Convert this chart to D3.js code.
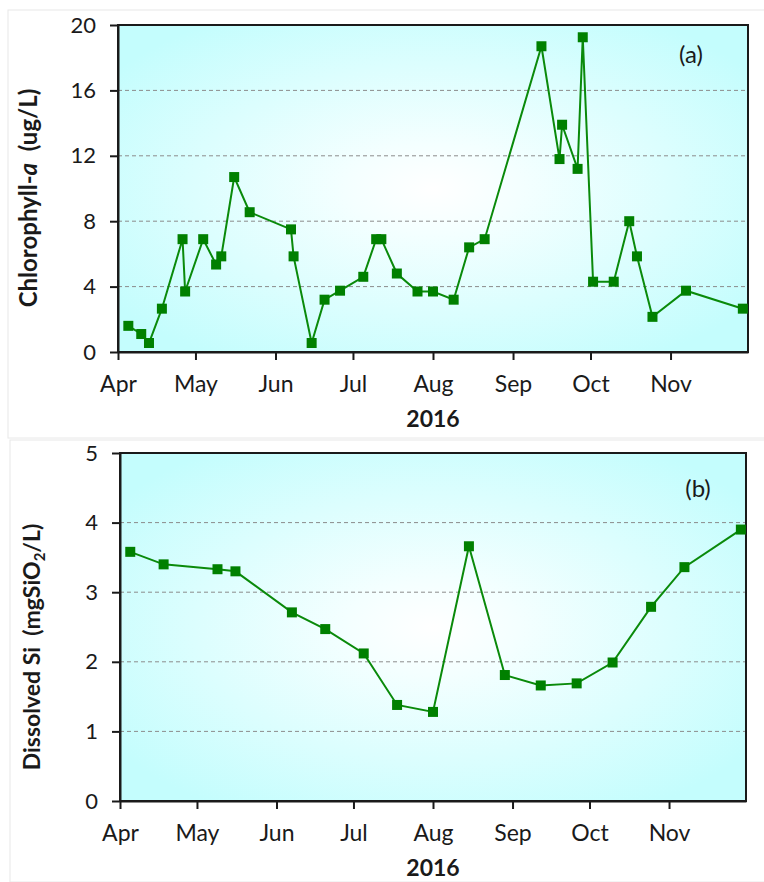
<!DOCTYPE html>
<html>
<head>
<meta charset="utf-8">
<script src="https://cdn.jsdelivr.net/npm/d3@7"></script>
<style>
  html, body { margin: 0; padding: 0; background: #ffffff; }
  svg text { font-family: Lato, "Open Sans", "DejaVu Sans", sans-serif; fill: #1a1a1a; }
</style>
</head>
<body>
<svg id="chart" width="764" height="882"></svg>
<script>
// ---------- data ----------
const chlDates = ["2016-04-05","2016-04-10","2016-04-13","2016-04-18","2016-04-26","2016-04-27",
  "2016-05-04","2016-05-09","2016-05-11","2016-05-16","2016-05-22","2016-06-07","2016-06-08",
  "2016-06-15","2016-06-20","2016-06-26","2016-07-05","2016-07-10","2016-07-12","2016-07-18",
  "2016-07-26","2016-08-01","2016-08-09","2016-08-15","2016-08-21","2016-09-12","2016-09-19",
  "2016-09-20","2016-09-26","2016-09-28","2016-10-02","2016-10-10","2016-10-16","2016-10-19",
  "2016-10-25","2016-11-07","2016-11-29"];
const chlValues = [1.6,1.1,0.55,2.65,6.9,3.7,6.9,5.35,5.85,10.7,8.55,7.5,5.85,0.55,3.2,3.75,4.6,
  6.9,6.9,4.8,3.7,3.7,3.2,6.4,6.9,18.7,11.8,13.9,11.2,19.25,4.3,4.3,8.0,5.85,2.15,3.75,2.65];

const siDates = ["2016-04-05","2016-04-18","2016-05-09","2016-05-16","2016-06-07","2016-06-20",
  "2016-07-05","2016-07-18","2016-08-01","2016-08-15","2016-08-29","2016-09-12","2016-09-26",
  "2016-10-10","2016-10-25","2016-11-07","2016-11-29"];
const siValues = [3.58,3.40,3.33,3.30,2.71,2.47,2.12,1.38,1.28,3.66,1.81,1.66,1.69,1.99,2.79,3.36,3.90];

const chlTicks = [0,4,8,12,16,20];
const siTicks = [0,1,2,3,4,5];
const yearLabel = "2016";

// ---------- drawing ----------
const parse = d3.timeParse("%Y-%m-%d");
const svg = d3.select("#chart");
const defs = svg.append("defs");
const FONT = "Lato, 'Open Sans', sans-serif";

function panel(cfg) {
  const g = svg.append("g");
  // chart-area outline
  g.append("rect").attr("x", cfg.box[0]).attr("y", cfg.box[1])
    .attr("width", cfg.box[2]).attr("height", cfg.box[3])
    .attr("fill", "none").attr("stroke", "#e8e8e8").attr("stroke-width", 1);

  const x = d3.scaleTime()
    .domain([new Date(2016, 3, 1), new Date(2016, 11, 1)])
    .range([cfg.left, cfg.right]);
  const y = d3.scaleLinear().domain(cfg.domain).range([cfg.bottom, cfg.top]);

  const gid = "grad" + cfg.id;
  const grad = defs.append("radialGradient").attr("id", gid)
    .attr("cx", "50%").attr("cy", "50%").attr("r", "62%");
  grad.append("stop").attr("offset", "0%").attr("stop-color", "#ffffff");
  grad.append("stop").attr("offset", "22%").attr("stop-color", "#f4ffff");
  grad.append("stop").attr("offset", "100%").attr("stop-color", "#c4fdfd");

  g.append("rect").attr("x", cfg.left).attr("y", cfg.top)
    .attr("width", cfg.right - cfg.left).attr("height", cfg.bottom - cfg.top)
    .attr("fill", `url(#${gid})`);

  // gridlines
  g.append("g").selectAll("line")
    .data(cfg.ticks.filter(t => t > cfg.domain[0] && t < cfg.domain[1]))
    .join("line")
    .attr("x1", cfg.left).attr("x2", cfg.right)
    .attr("y1", d => y(d)).attr("y2", d => y(d))
    .attr("stroke", "#8c8c8c").attr("stroke-width", 1).attr("stroke-dasharray", "4,3");

  // frame
  g.append("rect").attr("x", cfg.left).attr("y", cfg.top)
    .attr("width", cfg.right - cfg.left).attr("height", cfg.bottom - cfg.top)
    .attr("fill", "none").attr("stroke", "#1a1a1a").attr("stroke-width", 2);

  // axes
  const months = d3.timeMonth.range(new Date(2016, 3, 1), new Date(2016, 11, 1));
  const xAxis = g.append("g").attr("transform", `translate(0,${cfg.bottom})`)
    .call(d3.axisBottom(x).tickValues(months).tickFormat(d3.timeFormat("%b"))
      .tickSize(8).tickSizeOuter(0).tickPadding(16));
  xAxis.select(".domain").attr("stroke", "#1a1a1a").attr("stroke-width", 2);
  xAxis.selectAll(".tick line").attr("stroke", "#1a1a1a").attr("stroke-width", 2);
  xAxis.selectAll(".tick text").attr("font-size", 23).attr("fill", "#1a1a1a")
    .style("font-family", FONT);

  const yAxis = g.append("g").attr("transform", `translate(${cfg.left},0)`)
    .call(d3.axisLeft(y).tickValues(cfg.ticks).tickFormat(d3.format("d"))
      .tickSize(8).tickSizeOuter(0).tickPadding(14));
  yAxis.select(".domain").attr("stroke", "#1a1a1a").attr("stroke-width", 2);
  yAxis.selectAll(".tick line").attr("stroke", "#1a1a1a").attr("stroke-width", 2);
  yAxis.selectAll(".tick text").attr("font-size", 22).attr("fill", "#1a1a1a")
    .style("font-family", FONT);

  // series
  const pts = cfg.dates.map((d, i) => ({ date: parse(d), v: cfg.values[i] }));
  g.append("path").datum(pts)
    .attr("fill", "none").attr("stroke", "#0a8a0a").attr("stroke-width", 2)
    .attr("d", d3.line().x(d => x(d.date)).y(d => y(d.v)));
  const ms = 10;
  g.append("g").selectAll("rect").data(pts).join("rect")
    .attr("x", d => x(d.date) - ms / 2).attr("y", d => y(d.v) - ms / 2)
    .attr("width", ms).attr("height", ms)
    .attr("fill", "#008000");

  // year label
  g.append("text").attr("x", x(new Date(2016, 7, 1))).attr("y", cfg.yearY)
    .attr("text-anchor", "middle").attr("font-size", 23).attr("font-weight", "bold")
    .text(yearLabel);

  // panel tag
  g.append("text").attr("x", cfg.tag[0]).attr("y", cfg.tag[1])
    .attr("text-anchor", "middle").attr("font-size", 24).text(cfg.tagText);

  // y title
  const t = g.append("text")
    .attr("transform", `translate(${cfg.titleX},${cfg.titleY}) rotate(-90)`)
    .attr("text-anchor", "middle").attr("font-size", cfg.titleSize).attr("font-weight", "bold")
    .attr("xml:space", "preserve");
  cfg.title(t);
}

panel({
  id: "a", box: [8, 10, 760, 428],
  left: 118, right: 748, top: 25, bottom: 352, domain: [0, 20], ticks: chlTicks,
  dates: chlDates, values: chlValues, yearY: 427, tag: [691, 63], tagText: "(a)",
  titleX: 37, titleY: 198, titleSize: 24,
  title: t => {
    t.append("tspan").text("Chlorophyll-");
    t.append("tspan").attr("font-style", "italic").text("a");
    t.append("tspan").text("\u00a0\u00a0(ug/L)");
  }
});

panel({
  id: "b", box: [10, 440, 758, 442],
  left: 120, right: 746, top: 453, bottom: 801, domain: [0, 5], ticks: siTicks,
  dates: siDates, values: siValues, yearY: 876, tag: [698, 497], tagText: "(b)",
  titleX: 40, titleY: 647, titleSize: 23,
  title: t => {
    t.append("tspan").text("Dissolved Si\u00a0\u00a0(mgSiO");
    t.append("tspan").attr("font-size", 15).attr("dy", 5).text("2");
    t.append("tspan").attr("dy", -5).text("/L)");
  }
});
</script>
</body>
</html>
